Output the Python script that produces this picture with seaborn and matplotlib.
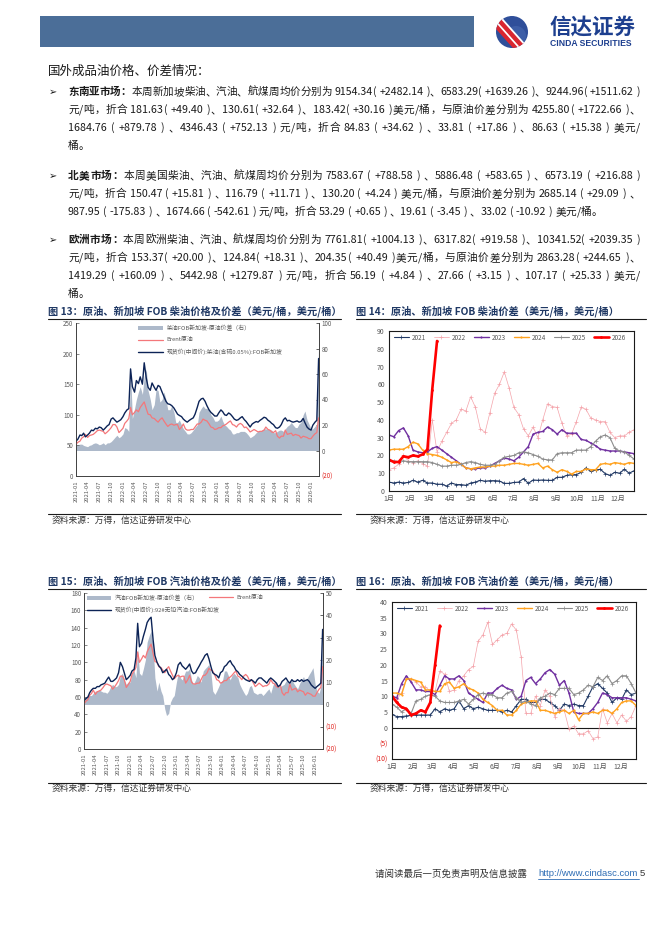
import re
import numpy as np
import pandas as pd
import matplotlib
matplotlib.use('Agg')
import matplotlib.pyplot as plt
import seaborn as sns
from matplotlib.patches import Rectangle, Circle, Patch
from matplotlib.lines import Line2D

sns.set_theme(style='white')
plt.rcParams['font.family'] = ['Noto Sans CJK SC', 'DejaVu Sans']
plt.rcParams['axes.unicode_minus'] = False

W, H = 662, 936

# ---------------- data ----------------
# semi-monthly observations, 2021-01-01 .. 2026-03-01 (US$/bbl)
brent = [52, 55, 57, 62, 64, 68, 63, 66, 67, 68, 71, 74, 75, 74, 73, 69, 72, 75, 79, 84, 84, 80, 71, 74,
         78, 86, 90, 94, 112, 100, 104, 108, 105, 112, 117, 121, 110, 101, 100, 95, 94, 91, 88, 92, 95, 90, 85, 81,
         84, 85, 83, 84, 84, 76, 80, 85, 77, 75, 75, 76, 76, 80, 85, 85, 88, 93, 91, 90, 85, 80, 79, 76,
         77, 79, 79, 82, 83, 85, 88, 90, 84, 83, 80, 84, 86, 84, 79, 80, 76, 72, 74, 76, 74, 72, 73, 73,
         75, 80, 76, 75, 72, 71, 74, 65, 62, 65, 65, 75, 68, 69, 70, 66, 68, 67, 66, 62, 65, 64, 63, 61,
         61, 65, 69, 71, 95]
diesel_sg = [57, 60, 67, 66, 70, 64, 67, 70, 75, 74, 78, 77, 80, 79, 75, 78, 82, 84, 93, 95, 91, 88, 90, 92,
             97, 103, 108, 110, 175, 146, 137, 156, 151, 162, 150, 185, 160, 145, 140, 152, 145, 140, 148, 146, 137, 130, 122, 118,
             117, 115, 111, 106, 101, 99, 97, 93, 90, 88, 91, 93, 95, 101, 112, 122, 126, 127, 122, 115, 108, 104, 101, 98,
             98, 103, 108, 105, 100, 99, 103, 101, 97, 93, 91, 92, 95, 97, 92, 89, 84, 80, 85, 87, 89, 88, 91, 93,
             96, 95, 91, 89, 86, 84, 79, 78, 80, 84, 92, 95, 90, 91, 89, 88, 89, 90, 88, 89, 94, 87, 80, 77,
             75, 83, 88, 91, 192]
diesel_spread = [5, 4.5, 5, 5, 4, 3.5, 3, 4, 4.5, 5.5, 6, 5.5, 4.5, 5, 6, 4.5, 6, 6, 7, 8.5, 10.5, 12, 10, 11,
                 13, 18, 17, 15, 62, 25, 33, 40, 46, 50, 44, 58, 64, 47, 40, 32, 36, 48, 47, 38, 40, 46, 40, 32,
                 32, 35, 30, 22, 22, 24, 20, 17, 15, 13, 13, 14, 16, 18, 20, 30, 33, 35, 33, 33, 32, 28, 26, 23,
                 23, 24, 27, 23, 20, 19, 17, 16, 13, 13, 14, 14, 15, 15, 15, 14, 12, 10, 11, 12, 14, 15, 15, 16,
                 17, 17, 16.5, 16.5, 16, 14, 14, 15, 16, 16, 15, 17, 19, 20, 22, 20, 18, 18, 21, 22, 28, 31, 24, 21,
                 17, 17, 19, 21, 84]
gasoline_sg = [56, 58, 60, 65, 68, 70, 70, 72, 72, 74, 75, 76, 80, 83, 78, 78, 80, 82, 88, 100, 95, 88, 80, 82,
               85, 90, 92, 105, 145, 118, 122, 130, 138, 146, 150, 152, 126, 108, 100, 96, 93, 88, 90, 92, 86, 84, 80, 82,
               88, 97, 100, 96, 94, 92, 95, 98, 90, 87, 88, 92, 96, 100, 104, 108, 110, 104, 95, 88, 86, 85, 82, 88,
               90, 95, 97, 100, 102, 98, 95, 91, 89, 86, 84, 82, 80, 79, 78, 80, 78, 76, 80, 82, 82, 80, 78, 76,
               80, 82, 80, 78, 76, 72, 74, 78, 80, 82, 78, 76, 80, 78, 78, 80, 78, 80, 78, 79, 80, 78, 74, 72,
               70, 72, 74, 76, 138]
gasoline_spread = [3, 3.5, 4, 4, 4, 5, 6, 6, 6.5, 6, 5.5, 5.5, 5, 6, 8, 9, 8, 8, 9, 13, 14, 11, 9, 10,
                   10, 14, 15, 12, 25, 14, 13, 16, 20, 28, 31, 33, 26, 12, 6, 10, 6, 4, -2, -5, -4, 1, 3, 4,
                   10, 14, 12, 11, 13, 15, 15, 16, 11, 9, 11, 13, 12, 10, 15, 16, 17, 18, 14, 6, 4.5, 6, 8, 10,
                   11, 15, 15, 13, 11, 13, 14, 13, 12, 9, 7, 5.5, 4, 5, 8, 8.5, 5.5, 5, 4.5, 5, 5, 4, 5, 6,
                   7, 5, 8.5, 10, 10, 8, 8, 8.5, 9, 10.5, 10.5, 9.5, 11, 9.5, 8, 7, 9.5, 11, 12.5, 10.5, 12, 13.5, 15, 16.5,
                   9, 6, 5, 8, 33]

# weekly cracks by year (US$/bbl)
years = ['2021', '2022', '2023', '2024', '2025', '2026']
months = ['1月', '2月', '3月', '4月', '5月', '6月', '7月', '8月', '9月', '10月', '11月', '12月']
diesel_crack = {
    '2021': [5, 4.5, 5, 4.5, 4.8, 6, 5, 6, 4.5, 4.5, 3.8, 3.8, 2.8, 4.5, 3.6, 3.6, 3.2, 4.5, 5, 6, 5.5, 5.8, 5.8, 5.6, 4.3, 4.3,
             4.8, 5, 7, 4.3, 6.2, 6, 6.2, 6, 6, 7.7, 7.7, 8.8, 9.2, 9.2, 10.5, 13, 11, 11.8, 12.2, 9.8, 8.8, 10.5, 10, 12.2, 10, 11.4],
    '2022': [12, 13, 15, 20, 17, 16, 17, 15.4, 14, 40, 22, 28, 33, 38, 40, 46, 45, 53, 47, 35, 33, 44, 55, 60, 67, 58,
             47, 43, 35, 31, 36, 30, 40, 49, 47.5, 47, 38, 31, 32, 39, 47, 46, 41, 40, 39, 39, 33, 30, 31, 31, 33, 34.5],
    '2023': [31.5, 30.5, 34, 35.5, 31, 23, 22, 21.5, 22, 24, 25, 23, 21, 19, 17, 15, 13, 12.5, 12.5, 13, 13, 14, 15.5, 17, 18.5, 18,
             17, 19, 22, 25, 32, 33, 33.5, 36, 34.5, 32, 34.5, 32.5, 32.5, 32.5, 29, 28.5, 27, 25.5, 23.5, 23, 22.5, 22.5, 22.5, 22, 21.5, 21],
    '2024': [23, 23.5, 23.5, 23.5, 25, 27.5, 26.5, 23, 21, 20.5, 20, 19, 17.5, 16, 16.5, 15, 13, 12.5, 13, 13.5, 13.5, 14, 14, 14.5, 14.5, 15,
             15.5, 15.5, 15, 14.5, 15, 15.5, 13, 14, 12, 10.5, 12, 11, 9.5, 11, 11, 12.5, 12, 12, 15, 15.5, 15, 16, 15.5, 15, 16, 15.5],
    '2025': [17, 17, 16.5, 17, 16.5, 16.5, 16.5, 16.5, 16.5, 16, 15, 14, 14, 14.5, 14.5, 15, 16, 16.5, 16, 15, 14.5, 14.5, 15, 17, 19, 19.5,
             20, 21.5, 22, 21.5, 20.5, 19.5, 18, 17.5, 17.5, 21, 21.5, 21.5, 21.5, 23, 23, 23, 25, 28, 30.5, 31.5, 30, 24, 22.5, 22, 20, 18],
    '2026': [17.6, 16.3, 16.3, 19.5, 19, 20, 19.5, 20.6, 23.4, 57, 84.4],
}
gasoline_crack = {
    '2021': [4.2, 3.5, 3.5, 3.7, 3.9, 4, 4, 4, 4, 6, 5, 6, 5.5, 6, 8.5, 6, 7, 6, 6.5, 6, 5.5, 5.5, 5.5, 5, 5.5, 5,
             7, 9, 9, 8, 8, 9, 9, 8, 7, 5.5, 7.5, 7, 7.5, 7, 7, 10, 13, 14, 12.5, 11, 8, 9.5, 9, 12, 10.5, 11],
    '2022': [9.5, 9, 11, 15.5, 15.5, 14.5, 13, 13, 11.5, 11.5, 18, 17, 11.5, 12, 15, 16.5, 18.5, 19.5, 27.5, 29.5, 33.5, 26.5, 28, 29.5, 30, 33,
             31, 22.5, 4.5, 4.5, 10, 7, 12, 10, 3.5, 6, 5.5, -0.5, 0.5, -2, -2, -1, -3.5, -3, 6, 1.5, 4.5, 1.5, 4, 2, 3.5, 7],
    '2023': [10, 9.5, 14, 16.5, 14.5, 12, 12, 11.5, 11.5, 10.5, 13.5, 16.5, 15.5, 15.5, 16.5, 15, 11, 10, 9, 8, 11, 11, 12.5, 13.5, 12.5, 12,
             9, 10, 15, 16, 14, 15.5, 17.5, 18.5, 17, 13.5, 15, 11, 5, 4.5, 4.5, 4.5, 6, 8, 11, 10.5, 9.5, 9.5, 9.5, 9.5, 9, 8.5],
    '2024': [11, 11, 10.5, 15.5, 15.5, 15, 14.5, 12, 12, 11.5, 11.5, 14, 14.5, 12.5, 13, 14, 12.5, 12, 11, 9, 8, 7, 5.5, 5.5, 4, 4,
             5.5, 7.5, 8, 8.5, 8.5, 5.5, 5.5, 5, 4.5, 5, 5.5, 4.5, 5.5, 2.5, 4.5, 4.5, 5, 4.5, 5.5, 5.5, 4.5, 6, 8, 8.5, 8.5, 7],
    '2025': [7.5, 6.5, 5, 6, 4.5, 8.5, 9, 10, 10.5, 10, 8.5, 8, 8, 8, 8.5, 9, 7.5, 9, 10.5, 11, 10.5, 10.5, 9.5, 9.5, 11, 11.5,
             9.5, 8, 8.5, 7.5, 7, 9.5, 10, 11, 10.5, 12.5, 12.5, 12.5, 10.5, 11, 12, 13.5, 13, 16, 15, 16.5, 14, 15, 16.5, 16.5, 14, 11],
    '2026': [10, 8, 6.5, 6, 4, 4.5, 5.5, 5, 8, 20, 32.5],
}

# ---------------- styles ----------------
NAVY = '#0c2356'
SALMON = '#f4777a'
AREA = '#adb9ca'
TICKC = '#595959'
year_style = {
    '2021': dict(color='#203864', lw=0.8, marker='+', ms=2.2),
    '2022': dict(color='#f4a3aa', lw=0.5, marker='+', ms=2.2),
    '2023': dict(color='#7030a0', lw=1.0, marker='.', ms=2.0),
    '2024': dict(color='#ffa21f', lw=1.0, marker='.', ms=2.0),
    '2025': dict(color='#8c8c8c', lw=0.8, marker='+', ms=2.2),
    '2026': dict(color='#ff0000', lw=1.9, marker='.', ms=2.8),
}

fig = plt.figure(figsize=(W / 100, H / 100), dpi=100)
fig.patch.set_facecolor('white')


def frect(x0, y0, x1, y1):
    return [x0 / W, 1 - y1 / H, (x1 - x0) / W, (y1 - y0) / H]


pax = fig.add_axes([0, 0, 1, 1])
pax.set_xlim(0, W)
pax.set_ylim(H, 0)
pax.axis('off')

# ---------------- header ----------------
pax.add_patch(Rectangle((40, 16), 434, 31, color='#4b6e98', lw=0))
logo = Circle((512, 32), 16, color='#2f4f9a', lw=0)
pax.add_patch(logo)
shade = Circle((516, 36), 10, color='#5a7cc0', lw=0, alpha=0.35)
pax.add_patch(shade)
shade.set_clip_path(logo)
for off, col, lw in [(-7, '#d9262f', 3.6), (-3.2, 'white', 1.8), (0.8, '#d9262f', 3.6), (4.6, 'white', 1.3)]:
    ln, = pax.plot([493 + off, 525 + off], [14, 50], color=col, lw=lw, solid_capstyle='butt')
    ln.set_clip_path(logo)
pax.text(550, 27.5, '信达证券', fontsize=15.5, fontweight='bold', color='#1d3f8f', va='center', ha='left')
pax.text(550, 44, 'CINDA SECURITIES', fontsize=6.2, fontweight='bold', color='#1d3f8f',
         va='center', ha='left', family='Liberation Sans')

# ---------------- body text ----------------
renderer = fig.canvas.get_renderer()
_cache = {}
PAT = re.compile(r'[0-9A-Za-z.+\-%]+|\s|.')
BODY_FS = 7.7


def tw(tok, fs, weight):
    key = (tok, round(fs, 3), weight)
    if key not in _cache:
        if tok.isspace():
            _cache[key] = 0.25 * fs * 100 / 72
        else:
            t = pax.text(0, 0, tok, fontsize=fs, fontweight=weight)
            _cache[key] = t.get_window_extent(renderer).width
            t.remove()
    return _cache[key]


def draw_line(y, segs, fs=BODY_FS, x0=68, x1=640, justify=True, color='#1a1a1a'):
    toks = []
    for text, weight in segs:
        for m in PAT.findall(text):
            toks.append((m, weight))
    widths = [tw(t, fs, w) for t, w in toks]
    natural = sum(widths)
    if natural > (x1 - x0):
        fs = fs * (x1 - x0) / natural * 0.995
        widths = [tw(t, fs, w) for t, w in toks]
    gap = (x1 - x0 - sum(widths)) / (len(toks) - 1) if (justify and len(toks) > 1) else 0
    gap = max(gap, 0)
    x = x0
    for (t, w), wd in zip(toks, widths):
        if not t.isspace():
            pax.text(x, y, t, fontsize=fs, fontweight=w, va='center', ha='left', color=color)
        x += wd + gap


pax.text(48, 71, '国外成品油价格、价差情况：', fontsize=9, va='center', ha='left', color='#1a1a1a')

blocks = [
    (92, [
        [('东南亚市场：', 'bold'), ('本周新加坡柴油、汽油、航煤周均价分别为 9154.34( +2482.14 )、6583.29( +1639.26 )、9244.96( +1511.62 )', 'normal')],
        [('元/吨，折合 181.63( +49.40 )、130.61( +32.64 )、183.42( +30.16 )美元/桶，与原油价差分别为 4255.80( +1722.66 )、', 'normal')],
        [('1684.76 ( +879.78 ) 、4346.43 ( +752.13 ) 元/吨，折合 84.83 ( +34.62 ) 、33.81 ( +17.86 ) 、86.63 ( +15.38 ) 美元/', 'normal')],
        [('桶。', 'normal')],
    ]),
    (176, [
        [('北美市场：', 'bold'), ('本周美国柴油、汽油、航煤周均价分别为 7583.67 ( +788.58 ) 、5886.48 ( +583.65 ) 、6573.19 ( +216.88 )', 'normal')],
        [('元/吨，折合 150.47 ( +15.81 ) 、116.79 ( +11.71 ) 、130.20 ( +4.24 ) 美元/桶，与原油价差分别为 2685.14 ( +29.09 ) 、', 'normal')],
        [('987.95 ( -175.83 ) 、1674.66 ( -542.61 ) 元/吨，折合 53.29 ( +0.65 ) 、19.61 ( -3.45 ) 、33.02 ( -10.92 ) 美元/桶。', 'normal')],
    ]),
    (240, [
        [('欧洲市场：', 'bold'), ('本周欧洲柴油、汽油、航煤周均价分别为 7761.81( +1004.13 )、6317.82( +919.58 )、10341.52( +2039.35 )', 'normal')],
        [('元/吨，折合 153.37( +20.00 )、124.84( +18.31 )、204.35( +40.49 )美元/桶，与原油价差分别为 2863.28( +244.65 )、', 'normal')],
        [('1419.29 ( +160.09 ) 、5442.98 ( +1279.87 ) 元/吨，折合 56.19 ( +4.84 ) 、27.66 ( +3.15 ) 、107.17 ( +25.33 ) 美元/', 'normal')],
        [('桶。', 'normal')],
    ]),
]
for y0, lines in blocks:
    pax.text(49, y0, '➢', fontsize=7, family='DejaVu Sans', va='center', ha='left', color='#1a1a1a')
    for i, segs in enumerate(lines):
        last = (i == len(lines) - 1)
        draw_line(y0 + 18 * i, segs, justify=not last)

# ---------------- titles / sources ----------------
TITLEC = '#1f3864'
titles = [
    (48, 311, '图 13：原油、新加坡 FOB 柴油价格及价差（美元/桶，美元/桶）'),
    (356, 311, '图 14：原油、新加坡 FOB 柴油价差（美元/桶，美元/桶）'),
    (48, 581, '图 15：原油、新加坡 FOB 汽油价格及价差（美元/桶，美元/桶）'),
    (356, 581, '图 16：原油、新加坡 FOB 汽油价差（美元/桶，美元/桶）'),
]
for x, y, t in titles:
    pax.text(x, y, t, fontsize=7.35, fontweight='bold', color=TITLEC, va='center', ha='left')
for (xa, xb) in [(48, 341), (356, 646)]:
    for y in (318.5, 588.5):
        pax.plot([xa, xb], [y, y], color='#1a1a1a', lw=0.8)
    for y in (513.5, 782.5):
        pax.plot([xa, xb], [y, y], color='#1a1a1a', lw=0.8)
for x in (52, 370):
    for y in (520, 788):
        pax.text(x, y, '资料来源：万得，信达证券研发中心', fontsize=6.3, color='#333333', va='center', ha='left')

# footer
pax.text(375, 874, '请阅读最后一页免责声明及信息披露 ', fontsize=6.8, color='#333333', va='center', ha='left')
pax.text(538, 874, 'http://www.cindasc.com', fontsize=6.8, color='#2e6db4', va='center', ha='left', family='Liberation Sans')
pax.plot([538, 639], [879, 879], color='#2e6db4', lw=0.6)
pax.text(639.5, 874, '5', fontsize=6.8, color='#333333', va='center', ha='left', family='Liberation Sans')

# ---------------- time-series charts ----------------
dates = pd.date_range('2021-01-01', '2026-03-01', freq='SMS')
qticks = pd.date_range('2021-01-01', '2026-01-01', freq='QS')
qlabels = [d.strftime('%Y-%m') for d in qticks]
xend = pd.Timestamp('2026-03-04')


def neg_label(v):
    return f'({abs(int(v))})' if v < 0 else f'{int(v)}'


def ts_chart(rect, spread, product, prod_label, spread_label, lmax, lstep, rmin, rmax, rstep, legend_mode):
    ax = fig.add_axes(frect(*rect))
    ax.fill_between(dates, 0, spread, color=AREA, lw=0, label=spread_label)
    ax.set_ylim(rmin, rmax)
    ax.set_xlim(dates[0], xend)
    ax.set_xticks(qticks)
    ax.set_xticklabels(qlabels, rotation=90)
    ax.grid(False)

    ax2 = ax.twinx()
    sns.lineplot(x=dates, y=brent, ax=ax2, color=SALMON, lw=0.9, label='Brent原油', legend=False)
    sns.lineplot(x=dates, y=product, ax=ax2, color=NAVY, lw=1.0, label=prod_label, legend=False)
    ax2.set_ylim(0, lmax)
    ax2.set_xlim(dates[0], xend)
    ax2.set_ylabel('')
    ax2.set_xlabel('')
    ax.set_xlabel('')
    ax2.grid(False)

    # right scale (spread) on base axes, left scale (prices) on twin axes
    rt = list(range(rmin, rmax + 1, rstep))
    ax.yaxis.tick_right()
    ax.yaxis.set_label_position('right')
    ax.set_yticks(rt)
    ax.set_yticklabels([neg_label(v) for v in rt])
    for lab, v in zip(ax.get_yticklabels(), rt):
        lab.set_color('#e0201b' if v < 0 else TICKC)
    ax.tick_params(axis='x', labelsize=4.2, colors=TICKC, length=2, width=0.5, pad=1.5)
    ax.tick_params(axis='y', which='both', labelsize=4.5, length=2, width=0.5, pad=2, direction='in',
                   left=False, labelleft=False, right=True, labelright=True)
    ax2.yaxis.tick_left()
    ax2.yaxis.set_label_position('left')
    ax2.set_yticks(list(range(0, lmax + 1, lstep)))
    ax2.tick_params(axis='y', labelsize=4.5, colors=TICKC, length=2, width=0.5, pad=2, direction='in',
                    left=True, labelleft=True, right=False, labelright=False)
    for a in (ax, ax2):
        a.spines['top'].set_visible(False)
        for s in ('left', 'right', 'bottom'):
            a.spines[s].set_color('#404040')
            a.spines[s].set_linewidth(0.6)

    h_area = Patch(facecolor=AREA, edgecolor='none')
    h_br = Line2D([], [], color=SALMON, lw=0.9)
    h_pr = Line2D([], [], color=NAVY, lw=1.0)
    kw = dict(frameon=False, fontsize=4.2, handlelength=4.2, handleheight=0.6, handletextpad=0.6)
    legs = []
    if legend_mode == 13:
        legs.append(ax2.legend([h_area, h_br, h_pr], [spread_label, 'Brent原油', prod_label],
                               loc='upper left', bbox_to_anchor=(0.235, 1.02), labelspacing=1.05, **kw))
    else:
        leg1 = ax2.legend([h_area, h_pr], [spread_label, prod_label],
                          loc='upper left', bbox_to_anchor=(-0.01, 1.02), labelspacing=0.9, **kw)
        ax2.add_artist(leg1)
        leg2 = ax2.legend([h_br], ['Brent原油'], loc='upper left', bbox_to_anchor=(0.5, 1.02), **kw)
        legs += [leg1, leg2]
    for lg in legs:
        for t in lg.get_texts():
            t.set_color(TICKC)
    return ax, ax2


ts_chart((76, 323, 319, 476), diesel_spread, diesel_sg,
         '现货价(中间价):柴油(含硫0.05%):FOB新加坡', '柴油FOB新加坡-原油价差（右）',
         250, 50, -20, 100, 20, 13)
ts_chart((84, 593, 323, 749), gasoline_spread, gasoline_sg,
         '现货价(中间价):92#无铅汽油:FOB新加坡', '汽油FOB新加坡-原油价差（右）',
         180, 20, -20, 50, 10, 15)

# ---------------- seasonal charts ----------------
month_start = [0, 31, 59, 90, 120, 151, 181, 212, 243, 273, 304, 334]


def season_chart(rect, data, ymin, ymax, ystep, zero_line):
    ax = fig.add_axes(frect(*rect))
    for yr in years:
        vals = data[yr]
        days = 7 * np.arange(len(vals))
        st = year_style[yr]
        sns.lineplot(x=days, y=vals, ax=ax, color=st['color'], lw=st['lw'], marker=st['marker'],
                     markersize=st['ms'], markeredgewidth=0.5, markeredgecolor=st['color'],
                     label=yr, legend=False)
    ax.set_xlim(0, 357)
    ax.set_ylim(ymin, ymax)
    yt = list(range(ymin, ymax + 1, ystep))
    ax.set_yticks(yt)
    ax.set_yticklabels([neg_label(v) for v in yt])
    for lab, v in zip(ax.get_yticklabels(), yt):
        lab.set_color('#e0201b' if v < 0 else TICKC)
    ax.set_xticks(month_start)
    ax.set_xticklabels(months)
    ax.tick_params(axis='both', labelsize=5, length=0, pad=3)
    ax.tick_params(axis='x', colors=TICKC)
    ax.set_xlabel('')
    ax.set_ylabel('')
    ax.grid(False)
    for s in ax.spines.values():
        s.set_visible(True)
        s.set_color('#1a1a1a')
        s.set_linewidth(0.8)
    if zero_line:
        ax.axhline(0, color='#1a1a1a', lw=0.8, zorder=1)
    handles, labels = ax.get_legend_handles_labels()
    leg = ax.legend(handles, labels, ncol=6, loc='upper left', bbox_to_anchor=(-0.005, 1.02),
                    frameon=False, fontsize=4.6, handlelength=2.4, columnspacing=1.25, handletextpad=0.4)
    for t in leg.get_texts():
        t.set_color(TICKC)
    return ax


season_chart((389, 331, 634, 491), diesel_crack, 0, 90, 10, False)
season_chart((392, 602, 636, 759), gasoline_crack, -10, 40, 5, True)

fig.savefig('out.png', dpi=100, facecolor='white')
